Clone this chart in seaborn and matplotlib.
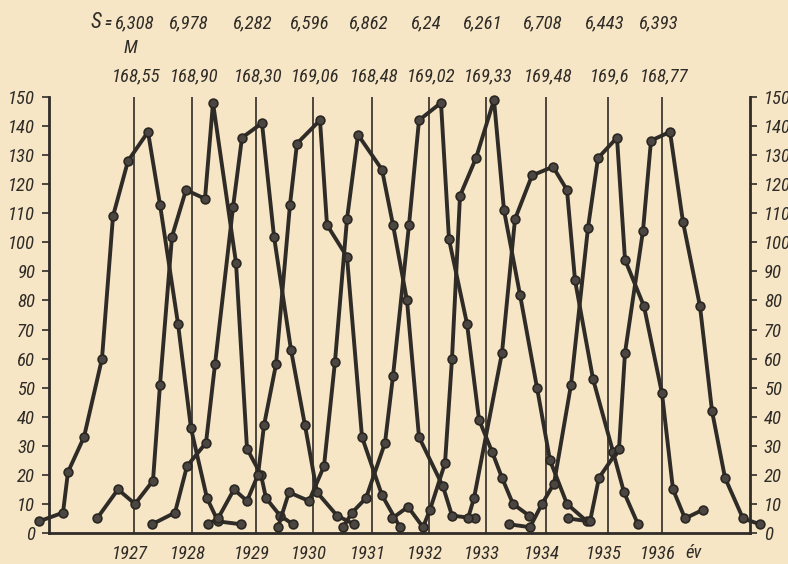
import matplotlib
matplotlib.use("Agg")
import matplotlib.pyplot as plt
import seaborn as sns
import pandas as pd
from matplotlib.transforms import blended_transform_factory

# ---------------- data ----------------
years = [1927, 1928, 1929, 1930, 1931, 1932, 1933, 1934, 1935, 1936]
S_labels = ["6,308", "6,978", "6,282", "6,596", "6,862", "6,24", "6,261", "6,708", "6,443", "6,393"]
M_labels = ["168,55", "168,90", "168,30", "169,06", "168,48", "169,02", "169,33", "169,48", "169,6", "168,77"]
# horizontal position of each year's mean line (chart x units)
mean_pos = [134, 192, 256, 313, 372, 429, 486, 546, 608, 662]

x27 = [39, 63, 68, 84, 102, 113, 128, 148, 160, 178, 191, 207, 218, 241]
n27 = [4, 7, 21, 33, 60, 109, 128, 138, 113, 72, 36, 12, 4, 3]
x28 = [97, 118, 135, 153, 160, 172, 186, 205, 213, 236, 247, 261, 266, 280, 293]
n28 = [5, 15, 10, 18, 51, 102, 118, 115, 148, 93, 29, 20, 12, 6, 3]
x29 = [152, 175, 187, 206, 215, 233, 242, 262, 274, 291, 305, 317, 337, 354]
n29 = [3, 7, 23, 31, 58, 112, 136, 141, 102, 63, 37, 14, 6, 3]
x30 = [208, 218, 234, 247, 258, 264, 276, 290, 297, 320, 327, 347, 362, 382, 400]
n30 = [3, 5, 15, 11, 20, 37, 58, 113, 134, 142, 106, 95, 33, 13, 2]
x31 = [278, 289, 309, 324, 335, 347, 358, 382, 393, 407, 419, 443, 452, 475]
n31 = [2, 14, 11, 23, 59, 108, 137, 125, 106, 80, 33, 16, 6, 5]
x32 = [343, 352, 366, 385, 393, 409, 419, 441, 449, 467, 479, 492, 502, 513, 529]
n32 = [2, 7, 12, 31, 54, 106, 142, 148, 101, 72, 39, 28, 19, 10, 6]
x33 = [392, 408, 423, 430, 445, 452, 460, 476, 494, 504, 520, 537, 550, 567, 587]
n33 = [5, 9, 2, 8, 24, 60, 116, 129, 149, 111, 82, 50, 25, 10, 4]
x34 = [468, 474, 502, 515, 532, 553, 567, 575, 593, 613, 624, 638]
n34 = [5, 12, 62, 108, 123, 126, 118, 87, 53, 28, 14, 3]
x35 = [509, 530, 542, 554, 571, 588, 598, 617, 625, 644, 662, 673, 685, 703]
n35 = [3, 2, 10, 17, 51, 105, 129, 136, 94, 78, 48, 15, 5, 8]
x36 = [568, 590, 599, 619, 625, 643, 651, 670, 683, 700, 712, 725, 743, 760]
n36 = [5, 4, 19, 29, 62, 104, 135, 138, 107, 78, 42, 19, 5, 3]

xs = [x27, x28, x29, x30, x31, x32, x33, x34, x35, x36]
ns = [n27, n28, n29, n30, n31, n32, n33, n34, n35, n36]

rows = []
for yr, xl, nl in zip(years, xs, ns):
    for i, (xv, nv) in enumerate(zip(xl, nl)):
        rows.append({"year": yr, "order": i, "x": xv, "n": nv})
df = pd.DataFrame(rows)

# ---------------- styling ----------------
paper = "#f6e6c6"
ink = "#2f2b27"
sns.set_style("ticks")
plt.rcParams["font.family"] = ["Liberation Sans Narrow", "DejaVu Sans Condensed",
                               "Roboto Condensed", "Liberation Sans", "DejaVu Sans"]
plt.rcParams["font.style"] = "italic"

fig = plt.figure(figsize=(7.88, 5.64), dpi=100, facecolor=paper)
ax = fig.add_axes([49 / 788, 31 / 564, 701 / 788, 436 / 564])
ax.set_facecolor(paper)

ax.vlines(mean_pos, 0, 150, color=ink, lw=1.2, zorder=1)

sns.lineplot(data=df, x="x", y="n", hue="year", units="year", estimator=None,
             sort=False, palette=[ink] * len(years), legend=False,
             marker="o", markersize=6.3, markerfacecolor="#4b4641",
             markeredgecolor="#2a2622", markeredgewidth=1.2,
             linewidth=2.8, clip_on=False, ax=ax, zorder=3)

ax.set_xlim(49, 750)
ax.set_ylim(0, 150)
ax.set_xlabel("")
ax.set_ylabel("")
ax.set_xticks([])
ax.set_yticks(range(0, 151, 10))
ax.tick_params(axis="y", which="both", left=True, right=True, labelleft=True,
               labelright=True, direction="out", length=5, width=1.2,
               colors=ink, labelsize=13.5, pad=5)
for lab in ax.get_yticklabels():
    lab.set_fontstyle("italic")
for side in ["left", "right", "bottom"]:
    ax.spines[side].set_visible(True)
    ax.spines[side].set_color(ink)
    ax.spines[side].set_linewidth(2.0)
ax.spines["top"].set_visible(False)

fs = 13.5
# year labels under the mean lines
tr_bottom = blended_transform_factory(ax.transData, fig.transFigure)
for yr, xp in zip(years, mean_pos):
    ax.text(xp - 4, 1 - 554 / 564, str(yr), transform=tr_bottom, ha="center",
            va="center", fontsize=fs, color=ink, style="italic")
ax.text(694, 1 - 553 / 564, "év", transform=tr_bottom, ha="center", va="center",
        fontsize=fs, color=ink, style="italic")

# S and M rows at the top
fig.text(91 / 788, 1 - 22 / 564, "S", ha="left", va="center", fontsize=fs + 2,
         color=ink, style="italic")
fig.text(104 / 788, 1 - 23 / 564, "=", ha="left", va="center", fontsize=fs - 3,
         color=ink, style="italic", weight="bold")
fig.text(130 / 788, 1 - 48 / 564, "M", ha="center", va="center", fontsize=fs,
         color=ink, style="italic")
for s, m, xp in zip(S_labels, M_labels, mean_pos):
    ax.text(xp - 3 if xp > 134 else xp + 1, 1 - 23 / 564, s, transform=tr_bottom,
            ha="center", va="center", fontsize=fs, color=ink, style="italic")
    ax.text(xp + 2, 1 - 76 / 564, m, transform=tr_bottom, ha="center",
            va="center", fontsize=fs, color=ink, style="italic")

fig.savefig("out.png", dpi=100, facecolor=paper)
